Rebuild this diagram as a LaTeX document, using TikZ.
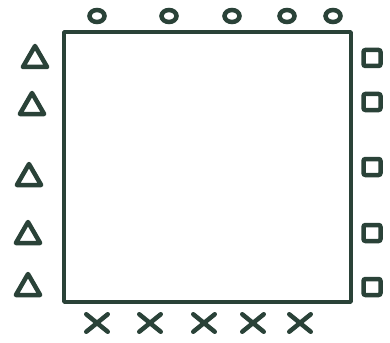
\documentclass[tikz,border=0pt]{standalone}
\usetikzlibrary{shapes.geometric,shapes.misc}
\definecolor{ink}{RGB}{42,66,56}
\tikzset{
  sym/.style={draw=ink, line width=4.5pt, inner sep=0pt},
  ring/.style={sym, ellipse, minimum width=15pt, minimum height=12pt},
  tri/.style={sym, regular polygon, regular polygon sides=3, minimum size=28pt, line join=round},
  box/.style={sym, rectangle, rounded corners=2pt, minimum width=17pt, minimum height=16pt},
  xmark/.style={sym, cross out, minimum width=17pt, minimum height=13pt, line cap=round}
}
\begin{document}
\begin{tikzpicture}[x=1pt, y=-1pt]
  \useasboundingbox (0,0) rectangle (390,342);
  % the square
  \draw[ink, line width=3.5pt, line join=round] (64,32) rectangle (351,302);
  % top circles
  \foreach \n/\x in {1/97, 2/169, 3/232, 4/287, 5/333}
    \node[ring] (c\n) at (\x,16) {};
  % left triangles
  \foreach \n/\x/\y in {1/35/60, 2/32/107, 3/29/178, 4/28/236, 5/28/288}
    \node[tri] (t\n) at (\x,\y) {};
  % right squares
  \foreach \n/\y in {1/58, 2/102, 3/167, 4/233, 5/287}
    \node[box] (s\n) at (372,\y) {};
  % bottom crosses
  \foreach \n/\x in {1/97, 2/150, 3/204, 4/253, 5/300}
    \node[xmark] (x\n) at (\x,323) {};
\end{tikzpicture}
\end{document}
